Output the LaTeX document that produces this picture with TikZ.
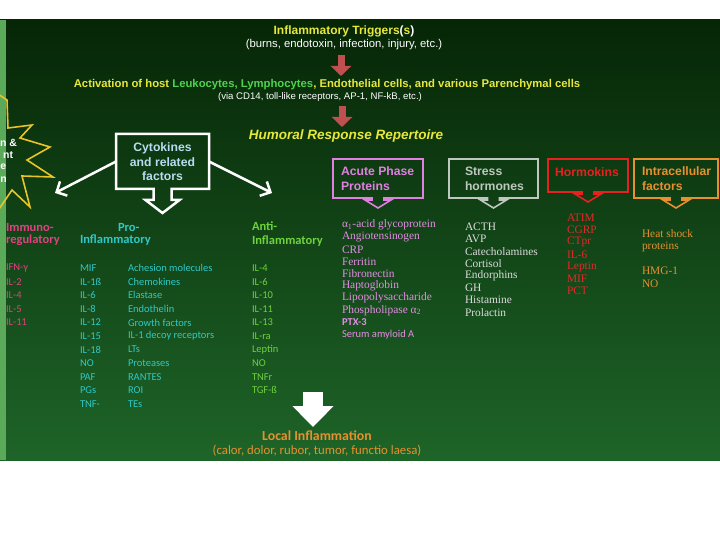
\documentclass[tikz,border=0pt]{standalone}
\usepackage{fontspec}
\setmainfont{Liberation Sans}
\newfontfamily\cali{Carlito}
\newfontfamily\serf{Liberation Serif}
\usetikzlibrary{arrows.meta,calc}
\definecolor{ylw}{RGB}{232,232,60}
\definecolor{lgrn}{RGB}{80,210,80}
\definecolor{redarr}{RGB}{192,80,80}
\definecolor{cytblue}{RGB}{184,220,240}
\definecolor{immpink}{RGB}{226,64,130}
\definecolor{procyan}{RGB}{48,200,200}
\definecolor{antigrn}{RGB}{110,210,60}
\definecolor{apink}{RGB}{224,128,224}
\definecolor{aplist}{RGB}{230,140,230}
\definecolor{strgrey}{RGB}{190,200,190}
\definecolor{strlist}{RGB}{220,220,220}
\definecolor{hormred}{RGB}{232,32,32}
\definecolor{hormlist}{RGB}{230,40,40}
\definecolor{icorange}{RGB}{232,144,48}
\definecolor{starylw}{RGB}{232,196,40}
\definecolor{bgtop}{RGB}{6,38,6}
\definecolor{bgbot}{RGB}{30,100,40}
\definecolor{stripc}{RGB}{90,170,90}
\newcommand\callbox[7]{% node, color, width, sw, sh, hw, hh
  \draw[#2, line width=#3, line join=miter]
    (#1.north west) -- (#1.north east) -- (#1.south east)
    -- ($(#1.south)+(#4,0)$) -- ($(#1.south)+(#4,#5)$) -- ($(#1.south)+(#6,#5)$)
    -- ($(#1.south)+(0,#5+#7)$)
    -- ($(#1.south)+(-#6,#5)$) -- ($(#1.south)+(-#4,#5)$) -- ($(#1.south)+(-#4,0)$)
    -- (#1.south west) -- cycle;}
\begin{document}
\begin{tikzpicture}[x=1pt,y=-1pt,
  every node/.style={inner sep=0pt, outer sep=0pt},
  lbl/.style={anchor=west},
  hdfont/.style={font=\cali\bfseries\fontsize{12.5}{14}\selectfont},
  lstfont/.style={font=\cali\fontsize{10.5}{12}\selectfont},
  serfont/.style={font=\serf\fontsize{11.4}{12}\selectfont},
  boxfont/.style={font=\bfseries\fontsize{12.2}{15}\selectfont, align=left},
  redblock/.style={redarr, line width=7pt, -{Triangle[width=20pt,length=10pt]}},
  whitearr/.style={white, line width=2.5pt, -{Straight Barb[length=8pt,width=16pt]}},
  starfont/.style={font=\bfseries\fontsize{10.5}{11}\selectfont, text=white},
]
\useasboundingbox (0,0) rectangle (720,540);
\clip (0,0) rectangle (720,540);
\fill[white] (0,0) rectangle (720,540);
\shade[top color=bgtop, bottom color=bgbot] (0,20) rectangle (720,460);
\fill[stripc] (0,20) rectangle (6,460);

% starburst
\draw[starylw, line width=1.6pt, line join=miter]
  (-5,92) -- (7,100) -- (8,128) -- (32,125) -- (20,138) -- (50,147) -- (27,160)
  -- (53,177) -- (22,176) -- (30,207) -- (12,190) -- (-5,215);
\node[anchor=east, starfont] (st1) at (17,143) {n \&};
\node[anchor=east, starfont] (st2) at (13,155) {nt};
\node[anchor=west, starfont] (st3) at (0.5,167) {e};
\node[anchor=west, starfont] (st4) at (0.5,180) {n};

% top texts
\node[font=\bfseries\fontsize{12}{13}\selectfont, text=ylw] (trig) at (344,31)
  {Inflammatory Triggers\textcolor{white}{(}s\textcolor{white}{)}};
\node[font=\fontsize{11.3}{12}\selectfont, text=white] (trig2) at (344,45)
  {(burns, endotoxin, infection, injury, etc.)};
\node[font=\bfseries\fontsize{11.3}{12}\selectfont, text=ylw] (act) at (327,85)
  {Activation of host \textcolor{lgrn}{Leukocytes, Lymphocytes}, Endothelial cells, and various Parenchymal cells};
\node[font=\fontsize{9.6}{10}\selectfont, text=white] (act2) at (320,97)
  {(via CD14, toll-like receptors, AP-1, NF-kB, etc.)};
\node[font=\bfseries\itshape\fontsize{13.5}{14}\selectfont, text=ylw] (hum) at (346,136)
  {Humoral Response Repertoire};

\coordinate (r1a) at (341,55); \coordinate (r1b) at (341,76);
\coordinate (r2a) at (342,106); \coordinate (r2b) at (342,127);
\draw[redblock] (r1a) -- (r1b);
\draw[redblock] (r2a) -- (r2b);

% cytokines box
\node[minimum width=93pt, minimum height=55pt] (cyt) at (162.5,161.5) {};
\callbox{cyt}{white}{2.5pt}{9}{11}{17}{13}
\node[font=\bfseries\fontsize{12.2}{14.5}\selectfont, text=cytblue, align=center] (cytt) at (162.5,162)
  {Cytokines\\and related\\factors};
\coordinate (immtip) at (55,193);
\coordinate (antitip) at (272,193);
\draw[whitearr] (cyt.west) -- (immtip);
\draw[whitearr] (cyt.east) -- (antitip);

% humoral boxes
\node[minimum width=90pt, minimum height=39pt] (ap) at (378,178.5) {};
\callbox{ap}{apink}{1.6pt}{6}{2}{13}{8}
\node[lbl, boxfont, text=apink] (apt) at (341,178.5) {Acute Phase\\Proteins};
\node[minimum width=89pt, minimum height=39pt] (st) at (493.5,178.5) {};
\callbox{st}{strgrey}{1.6pt}{6}{2}{13}{8}
\node[lbl, boxfont, text=strgrey] (stt) at (465,178.5) {Stress\\hormones};
\node[minimum width=80pt, minimum height=33pt] (hk) at (588,175.5) {};
\callbox{hk}{hormred}{1.6pt}{6}{2}{13}{8}
\node[boxfont, text=hormred] (hkt) at (587,172) {Hormokins};
\node[minimum width=84pt, minimum height=39pt] (ic) at (676,178.5) {};
\callbox{ic}{icorange}{1.6pt}{6}{2}{13}{8}
\node[lbl, boxfont, text=icorange] (ict) at (642,178.5) {Intracellular\\factors};

% column headers
\node[lbl, hdfont, text=immpink] (imh1) at (6,227) {Immuno-};
\node[lbl, hdfont, text=immpink] (imh2) at (6,240) {regulatory};
\node[lbl, hdfont, text=procyan] (prh1) at (118,227) {Pro-};
\node[lbl, hdfont, text=procyan] (prh2) at (80,240) {Inflammatory};
\node[lbl, hdfont, text=antigrn] (anh1) at (252,226) {Anti-};
\node[lbl, hdfont, text=antigrn] (anh2) at (252,241) {Inflammatory};

% lists
\foreach \t [count=\i] in {IFN-γ, IL-2, IL-4, IL-5, IL-11}
  \node[lbl, lstfont, text=immpink] (im\i) at (6,{268+13.6*(\i-1)}) {\t};
\foreach \t [count=\i] in {MIF, IL-1ß, IL-6, IL-8, IL-12, IL-15, IL-18, NO, PAF, PGs, TNF-}
  \node[lbl, lstfont, text=procyan] (pa\i) at (80,{268+13.6*(\i-1)}) {\t};
\foreach \t [count=\i] in {Achesion molecules, Chemokines, Elastase, Endothelin, Growth factors, IL-1 decoy receptors, LTs, Proteases, RANTES, ROI, TEs}
  \node[lbl, lstfont, text=procyan] (pb\i) at (128,{268+13.6*(\i-1)}) {\t};
\foreach \t [count=\i] in {IL-4, IL-6, IL-10, IL-11, IL-13, IL-ra, Leptin, NO, TNFr, TGF-ß}
  \node[lbl, lstfont, text=antigrn] (an\i) at (252,{268+13.6*(\i-1)}) {\t};

\foreach \t [count=\i] in {α\textsubscript{1}-acid glycoprotein, Angiotensinogen, CRP, Ferritin, Fibronectin, Haptoglobin, Lipopolysaccharide, Phospholipase α\textsubscript{2}}
  \node[lbl, serfont, text=aplist] (apl\i) at (342,{225+12.2*(\i-1)}) {\t};
\node[lbl, font=\cali\bfseries\fontsize{10.5}{12}\selectfont, text=aplist] (apl9) at (342,322) {PTX-3};
\node[lbl, font=\cali\fontsize{10.5}{12}\selectfont, text=aplist] (apl10) at (342,335) {Serum amyloid A};

\foreach \t [count=\i] in {ACTH, AVP, Catecholamines, Cortisol, Endorphins, GH, Histamine, Prolactin}
  \node[lbl, serfont, text=strlist] (stl\i) at (465,{227+12.2*(\i-1)}) {\t};
\foreach \t [count=\i] in {ATIM, CGRP, CTpr, IL-6, Leptin, MIF, PCT}
  \node[lbl, serfont, text=hormlist] (hkl\i) at (567,{218+12.2*(\i-1)}) {\t};
\node[lbl, serfont, text=icorange] (icl1) at (642,234) {Heat shock};
\node[lbl, serfont, text=icorange] (icl2) at (642,247) {proteins};
\node[lbl, serfont, text=icorange] (icl3) at (642,271) {HMG-1};
\node[lbl, serfont, text=icorange] (icl4) at (642,284) {NO};

% bottom
\coordinate (ba1) at (313,392); \coordinate (ba2) at (313,427);
\draw[white, line width=20pt, -{Triangle[width=40pt,length=21pt]}] (ba1) -- (ba2);
\node[font=\cali\bfseries\fontsize{13.8}{15}\selectfont, text=icorange] (loc1) at (317,436) {Local Inflammation};
\node[font=\cali\fontsize{12.8}{14}\selectfont, text=icorange] (loc2) at (317,451) {(calor, dolor, rubor, tumor, functio laesa)};
\end{tikzpicture}
\end{document}
